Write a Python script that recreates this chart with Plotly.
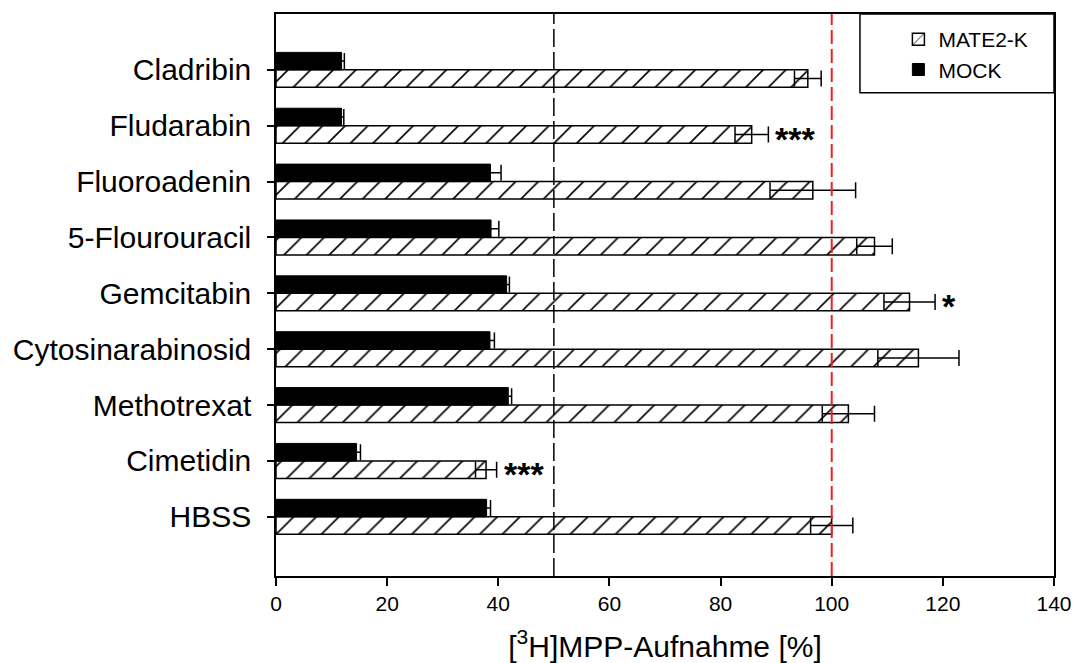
import plotly.graph_objects as go

# Substances (top to bottom as shown on the y axis)
categories = ["Cladribin", "Fludarabin", "Fluoroadenin", "5-Flourouracil", "Gemcitabin",
              "Cytosinarabinosid", "Methotrexat", "Cimetidin", "HBSS"]

# [3H]MPP uptake in % of HBSS control (MATE2-K cells)
mate_vals = [95.7, 85.6, 96.6, 107.7, 114.0, 115.6, 103.0, 37.8, 100.0]
mate_err = [2.4, 3.0, 7.7, 3.2, 4.6, 7.3, 4.7, 1.9, 3.8]

# [3H]MPP uptake in MOCK cells
mock_vals = [11.8, 11.8, 38.6, 38.7, 41.5, 38.5, 41.8, 14.5, 37.9]
mock_err = [0.5, 0.4, 1.9, 1.4, 0.5, 0.8, 0.6, 0.7, 0.7]

# Significance marks for MATE2-K
significance = ["", "***", "", "", "*", "", "", "***", ""]

x_ticks = [0, 20, 40, 60, 80, 100, 120, 140]
ref_lines = [50, 100]

FONT = "Liberation Sans, Arial, sans-serif"

fig = go.Figure()

fig.add_trace(go.Bar(
    name="MATE2-K",
    y=categories, x=mate_vals, orientation="h",
    marker=dict(color="white",
                line=dict(color="black", width=1.5),
                pattern=dict(shape="/", fgcolor="black", bgcolor="white", fgopacity=1,
                             size=16, solidity=0.1, fillmode="replace")),
    error_x=dict(type="data", array=mate_err, color="black", thickness=1.5, width=8),
))

fig.add_trace(go.Bar(
    name="MOCK",
    y=categories, x=mock_vals, orientation="h",
    marker=dict(color="black", line=dict(color="black", width=1)),
    error_x=dict(type="data", array=mock_err, color="black", thickness=1.5, width=8),
))

# reference lines at 50 % and 100 %
fig.add_shape(type="line", xref="x", yref="paper", x0=ref_lines[0], x1=ref_lines[0], y0=0, y1=1,
              line=dict(color="black", width=1.5, dash="18px,5px"), layer="above")
fig.add_shape(type="line", xref="x", yref="paper", x0=ref_lines[1], x1=ref_lines[1], y0=0, y1=1,
              line=dict(color="#f02020", width=2, dash="14px,5px"), layer="above")

# legend frame
fig.add_shape(type="rect", xref="paper", yref="paper", x0=0.7506, x1=1.0, y0=0.86, y1=1.0,
              line=dict(color="black", width=1.5), fillcolor="white", layer="above")

# significance asterisks next to the MATE2-K error bars
for cat, v, e, s in zip(categories, mate_vals, mate_err, significance):
    if s:
        fig.add_annotation(x=v + e, y=cat, text=f"<b>{s}</b>", showarrow=False,
                           xanchor="left", yanchor="middle", xshift=5, yshift=-13,
                           font=dict(family=FONT, size=34, color="black"))

fig.update_layout(
    width=1073, height=663,
    margin=dict(l=276, r=19, t=14, b=87, autoexpand=False),
    paper_bgcolor="white", plot_bgcolor="white",
    barmode="group", bargap=0.374, bargroupgap=0,
    font=dict(family=FONT, color="black"),
    showlegend=True,
    legend=dict(x=0.800, y=0.991, xanchor="left", yanchor="top",
                bgcolor="rgba(0,0,0,0)", borderwidth=0,
                font=dict(size=21, family=FONT), traceorder="normal",
                itemwidth=30, tracegroupgap=0),
    xaxis=dict(range=[0, 140], tickvals=x_ticks, ticks="outside", ticklen=8,
               tickwidth=1.5, tickcolor="black", showgrid=False, zeroline=False,
               showline=True, linecolor="black", linewidth=1.5, mirror=True,
               automargin=False,
               tickfont=dict(size=21, family=FONT),
               title=dict(text="[<sup>3</sup>H]MPP-Aufnahme [%]",
                          font=dict(size=30, family=FONT), standoff=22)),
    yaxis=dict(type="category", categoryorder="array", categoryarray=categories[::-1],
               range=[-1.06, 9.0], ticks="outside", ticklen=7, tickwidth=1.5,
               tickcolor="black", showgrid=False, zeroline=False,
               showline=True, linecolor="black", linewidth=1.5, mirror=True,
               automargin=False,
               tickfont=dict(size=30, family=FONT), ticklabelstandoff=10),
)

fig.write_html("out.html")
